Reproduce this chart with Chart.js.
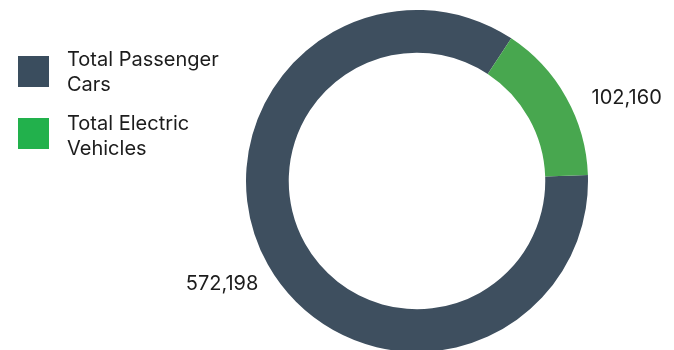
<!DOCTYPE html>
<html>
<head>
<meta charset="utf-8">
<script src="https://cdn.jsdelivr.net/npm/chart.js@4/dist/chart.umd.min.js"></script>
<style>
  html, body { margin: 0; padding: 0; background: #ffffff; }
  #wrap { width: 674px; height: 350px; overflow: hidden; position: relative; }
  canvas { display: block; }
</style>
</head>
<body>
<div id="wrap"><canvas id="chart" width="674" height="362"></canvas></div>
<script>
// Vehicle counts shown in the ring
const categories = [['Total Passenger', 'Cars'], ['Total Electric', 'Vehicles']];
const vehicleCounts = [572198, 102160];
const sliceColors = ['#3e4f5f', '#48a74f'];
const legendColors = ['#3a4d5e', '#22b14c'];

const FONT = '20px Inter, "Liberation Sans", sans-serif';
const TEXT_COLOR = '#1c1c1c';

// Legend drawn at the left, with wrapped labels
const sideLegend = {
  id: 'sideLegend',
  afterDraw(chart) {
    const ctx = chart.ctx;
    ctx.save();
    ctx.font = FONT;
    ctx.textBaseline = 'alphabetic';
    ctx.textAlign = 'left';
    const rows = [{ box: 56, base: 66 }, { box: 118, base: 130 }];
    categories.forEach((lines, i) => {
      ctx.fillStyle = legendColors[i];
      ctx.fillRect(18, rows[i].box, 31, 31);
      ctx.fillStyle = TEXT_COLOR;
      lines.forEach((ln, j) => ctx.fillText(ln, 67, rows[i].base + j * 25));
    });
    ctx.restore();
  }
};

// Value labels placed outside each arc, along its middle angle
const outerLabels = {
  id: 'outerLabels',
  afterDatasetsDraw(chart) {
    const ctx = chart.ctx;
    const meta = chart.getDatasetMeta(0);
    ctx.save();
    ctx.font = FONT;
    ctx.fillStyle = TEXT_COLOR;
    ctx.textBaseline = 'top';
    meta.data.forEach((arc, i) => {
      const p = arc.getProps(['x', 'y', 'startAngle', 'endAngle', 'outerRadius'], true);
      const mid = (p.startAngle + p.endAngle) / 2;
      const r = p.outerRadius + 20;
      const x = p.x + Math.cos(mid) * r + 8;
      const y = p.y + Math.sin(mid) * r;
      ctx.textAlign = Math.cos(mid) >= 0 ? 'left' : 'right';
      ctx.fillText(vehicleCounts[i].toLocaleString('en-US'), x, y);
    });
    ctx.restore();
  }
};

new Chart(document.getElementById('chart'), {
  type: 'doughnut',
  data: {
    labels: categories,
    datasets: [{
      data: vehicleCounts,
      backgroundColor: sliceColors,
      borderWidth: 0,
      hoverOffset: 0,
      offset: 0,
      spacing: 0
    }]
  },
  options: {
    responsive: false,
    animation: false,
    cutout: '75%',
    rotation: 88,
    layout: { padding: { left: 246, right: 86, top: 10, bottom: 10 } },
    plugins: {
      legend: { display: false },
      tooltip: { enabled: false }
    }
  },
  plugins: [sideLegend, outerLabels]
});
</script>
</body>
</html>
